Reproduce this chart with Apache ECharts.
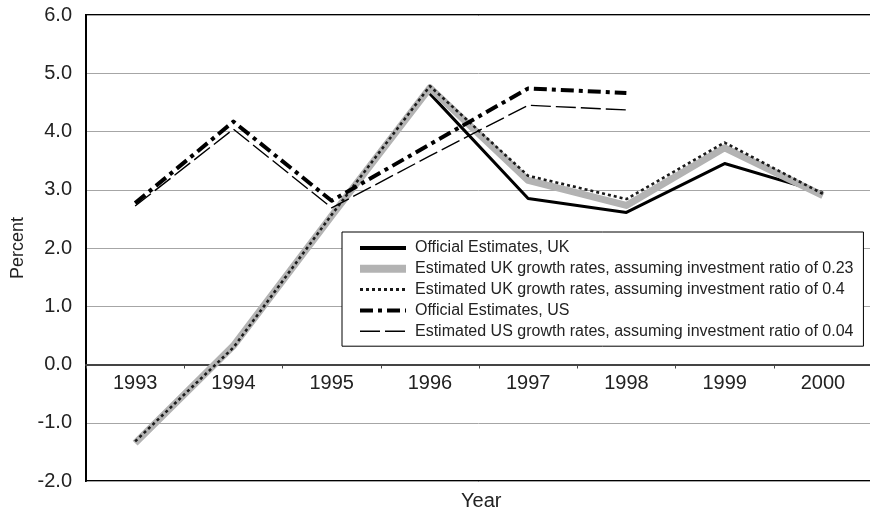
<!DOCTYPE html>
<html>
<head>
<meta charset="utf-8">
<script src="https://cdn.jsdelivr.net/npm/echarts@6/dist/echarts.min.js"></script>
<style>html,body{margin:0;padding:0;background:#fff}#c{width:870px;height:515px}</style>
</head>
<body>
<div id="c"></div>
<script>
const years = ['1993','1994','1995','1996','1997','1998','1999','2000'];
const ukOfficial = [null, null, null, 4.65, 2.85, 2.61, 3.45, 2.95];
const ukEst023 = [-1.35, 0.32, 2.55, 4.75, 3.16, 2.73, 3.72, 2.90];
const ukEst04 = [-1.32, 0.29, 2.57, 4.78, 3.24, 2.84, 3.81, 2.93];
const usOfficial = [2.77, 4.17, 2.81, 3.78, 4.74, 4.66, null, null];
const usEst004 = [2.72, 4.04, 2.69, 3.58, 4.45, 4.37, null, null];
const names = [
  'Official Estimates, UK',
  'Estimated UK growth rates, assuming investment ratio of 0.23',
  'Estimated UK growth rates, assuming investment ratio of 0.4',
  'Official Estimates, US',
  'Estimated US growth rates, assuming investment ratio of 0.04'
];
const yTicks = { min: -2, max: 6, step: 1 };

const FONT = 'Liberation Sans';
const styles = [
  { color: '#000000', width: 3, type: 'solid', lw: 4 },
  { color: '#b3b3b3', width: 7, type: 'solid', lw: 8 },
  { color: '#1a1a1a', width: 2.6, type: [3, 3], lw: 3 },
  { color: '#000000', width: 4, type: [13, 5, 4, 5], lw: 4 },
  { color: '#000000', width: 1.4, type: [20, 5], lw: 1.4 }
];
const dataSets = [ukOfficial, ukEst023, ukEst04, usOfficial, usEst004];

const chart = echarts.init(document.getElementById('c'), null, { renderer: 'canvas' });
chart.setOption({
  animation: false,
  backgroundColor: '#ffffff',
  grid: {
    left: 86, top: 15, width: 786, height: 466,
    show: true, borderColor: '#000', borderWidth: 2,
    containLabel: false, outerBoundsMode: 'none'
  },
  legend: {
    orient: 'vertical',
    left: 342, top: 232,
    padding: [8, 10, 7, 14],
    backgroundColor: '#ffffff',
    borderColor: '#000', borderWidth: 1,
    itemWidth: 46, itemHeight: 14, itemGap: 4.8,
    textStyle: { fontFamily: FONT, fontSize: 16, color: '#222', padding: [0, 0, 0, 4] },
    data: names.map((n, i) => ({
      name: n,
      itemStyle: { opacity: 0, borderWidth: 0 },
      lineStyle: { color: styles[i].color, width: styles[i].lw, type: styles[i].type, opacity: 1 }
    })),
    selectedMode: false,
    z: 10
  },
  xAxis: {
    type: 'category',
    data: years,
    boundaryGap: true,
    position: 'bottom',
    offset: -116.5,
    axisLine: { onZero: false, lineStyle: { color: '#444', width: 2 } },
    axisTick: { show: true, alignWithLabel: false, inside: false, length: 4, lineStyle: { color: '#444', width: 1 } },
    axisLabel: { fontFamily: FONT, fontSize: 20, color: '#222', margin: 9 },
    splitLine: { show: false }
  },
  yAxis: {
    type: 'value',
    min: yTicks.min, max: yTicks.max, interval: yTicks.step,
    name: 'Percent', nameLocation: 'middle', nameGap: 59, nameRotate: 90,
    nameTextStyle: { fontFamily: FONT, fontSize: 18, color: '#222' },
    axisLine: { show: true, lineStyle: { color: '#000', width: 2 } },
    axisTick: { show: false },
    axisLabel: { fontFamily: FONT, fontSize: 20, color: '#222', margin: 14, formatter: v => v.toFixed(1) },
    splitLine: { show: true, lineStyle: { color: '#a6a6a6', width: 1 } }
  },
  graphic: [{
    type: 'text', left: 461, top: 491,
    style: { text: 'Year', fontFamily: FONT, fontSize: 20, fill: '#222' }
  }],
  series: dataSets.map((d, i) => ({
    name: names[i],
    type: 'line',
    data: d,
    symbol: 'none',
    connectNulls: false,
    lineStyle: { color: styles[i].color, width: styles[i].width, type: styles[i].type, cap: 'butt', join: 'round' },
    itemStyle: { color: styles[i].color },
    z: 2 + i
  }))
});
</script>
</body>
</html>
